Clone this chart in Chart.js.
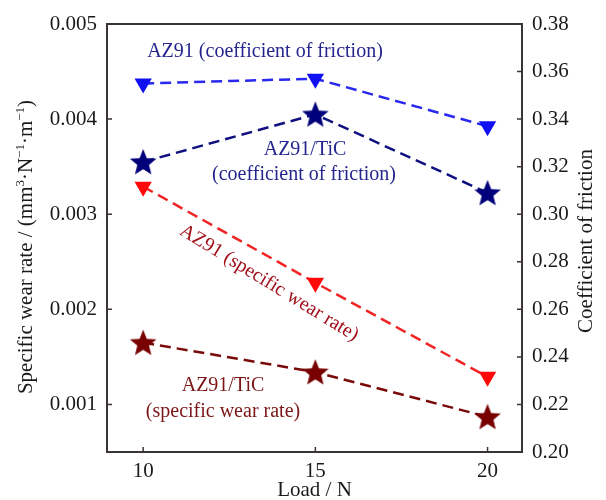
<!DOCTYPE html>
<html lang="en">
<head>
    <meta charset="UTF-8">
    <title>Wear rate and friction vs load</title>
    <script src="https://cdn.jsdelivr.net/npm/chart.js"></script>
    <style>
        body {
            margin: 0;
            background-color: white;
        }
        .chart-container {
            width: 606px;
            height: 500px;
        }
    </style>
</head>
<body>
    <div class="chart-container">
        <canvas id="wearChart" width="606" height="500"></canvas>
    </div>

    <script>
        // Data
        const loads = [10, 15, 20];
        const az91Cof = [0.355, 0.357, 0.337];
        const ticCof = [0.322, 0.342, 0.309];
        const az91Wear = [0.00329, 0.00228, 0.00129];
        const ticWear = [0.00165, 0.00134, 0.00087];

        const xTicks = [10, 15, 20];
        const wearTicks = [0.001, 0.002, 0.003, 0.004, 0.005];
        const cofTicks = [0.20, 0.22, 0.24, 0.26, 0.28, 0.30, 0.32, 0.34, 0.36, 0.38];

        const serif = '"Liberation Serif", "Times New Roman", serif';
        const axisColor = '#3a3434';

        // filled five-pointed star used as a point marker
        function makeStar(color, R) {
            const size = Math.ceil(R * 2 + 2);
            const c = document.createElement('canvas');
            c.width = size;
            c.height = size;
            const ctx = c.getContext('2d');
            const cx = size / 2, cy = size / 2 + R * 0.08;
            const r = R * 0.44;
            ctx.beginPath();
            for (let i = 0; i < 10; i++) {
                const rad = i % 2 === 0 ? R : r;
                const a = -Math.PI / 2 + i * Math.PI / 5;
                const px = cx + rad * Math.cos(a);
                const py = cy + rad * Math.sin(a);
                if (i === 0) ctx.moveTo(px, py); else ctx.lineTo(px, py);
            }
            ctx.closePath();
            ctx.fillStyle = color;
            ctx.fill();
            return c;
        }

        function pts(values) {
            return loads.map((x, i) => ({ x: x, y: values[i] }));
        }

        function fixTicks(list) {
            return function (scale) {
                scale.ticks = list.map(v => ({ value: v }));
            };
        }

        // frame, inward tick marks, axis titles and text labels
        const decorations = {
            id: 'decorations',
            afterDraw(chart) {
                const ctx = chart.ctx;
                const a = chart.chartArea;
                const s = chart.scales;
                ctx.save();

                ctx.strokeStyle = axisColor;
                ctx.lineWidth = 2;
                ctx.strokeRect(a.left, a.top, a.right - a.left, a.bottom - a.top);

                ctx.lineWidth = 1.5;
                ctx.beginPath();
                s.y.ticks.forEach(t => {
                    const py = s.y.getPixelForValue(t.value);
                    ctx.moveTo(a.left, py); ctx.lineTo(a.left + 5, py);
                });
                s.y1.ticks.forEach(t => {
                    const py = s.y1.getPixelForValue(t.value);
                    ctx.moveTo(a.right, py); ctx.lineTo(a.right - 5, py);
                });
                s.x.ticks.forEach(t => {
                    const px = s.x.getPixelForValue(t.value);
                    ctx.moveTo(px, a.bottom); ctx.lineTo(px, a.bottom - 5);
                });
                ctx.stroke();

                // x title
                ctx.fillStyle = '#1a1a1a';
                ctx.font = '21px ' + serif;
                ctx.textAlign = 'center';
                ctx.textBaseline = 'middle';
                ctx.fillText('Load / N', (a.left + a.right) / 2, 490);

                // right title, reading upwards
                ctx.save();
                ctx.translate(586, 241);
                ctx.rotate(-Math.PI / 2);
                ctx.fillText('Coefficient of friction', 0, 0);
                ctx.restore();

                // left title with superscripts
                const parts = [
                    ['Specific wear rate / (mm', false],
                    ['3', true],
                    ['\u00b7N', false],
                    ['\u22121', true],
                    ['\u00b7m', false],
                    ['\u22121', true],
                    [')', false]
                ];
                const big = '21px ' + serif;
                const small = '13px ' + serif;
                let total = 0;
                parts.forEach(p => {
                    ctx.font = p[1] ? small : big;
                    total += ctx.measureText(p[0]).width;
                });
                ctx.save();
                ctx.translate(25, 247);
                ctx.rotate(-Math.PI / 2);
                ctx.textAlign = 'left';
                ctx.textBaseline = 'alphabetic';
                let cx = -total / 2;
                parts.forEach(p => {
                    ctx.font = p[1] ? small : big;
                    ctx.fillText(p[0], cx, p[1] ? -1 : 7);
                    cx += ctx.measureText(p[0]).width;
                });
                ctx.restore();

                // series labels
                ctx.font = '20px ' + serif;
                ctx.textAlign = 'center';
                ctx.textBaseline = 'middle';
                ctx.fillStyle = '#25258e';
                ctx.fillText('AZ91 (coefficient of friction)', 265, 52);
                ctx.fillText('AZ91/TiC', 305, 150);
                ctx.fillText('(coefficient of friction)', 304, 175);

                ctx.fillStyle = '#7c1616';
                ctx.fillText('AZ91/TiC', 223, 386);
                ctx.fillText('(specific wear rate)', 223, 412);

                ctx.save();
                ctx.fillStyle = '#a1101a';
                ctx.translate(269, 283);
                ctx.rotate(31.5 * Math.PI / 180);
                ctx.fillText('AZ91 (specific wear rate)', 0, 0);
                ctx.restore();

                ctx.restore();
            }
        };

        const lineBase = {
            borderWidth: 2.5,
            borderDash: [11, 6],
            fill: false,
            tension: 0
        };

        new Chart(document.getElementById('wearChart'), {
            type: 'line',
            data: {
                datasets: [
                    Object.assign({}, lineBase, {
                        label: 'AZ91 (specific wear rate)',
                        data: pts(az91Wear),
                        yAxisID: 'y',
                        borderColor: '#f02424',
                        backgroundColor: '#ff0808',
                        pointStyle: 'triangle',
                        rotation: 180,
                        pointRadius: 10,
                        pointBorderWidth: 0
                    }),
                    Object.assign({}, lineBase, {
                        label: 'AZ91/TiC (specific wear rate)',
                        data: pts(ticWear),
                        yAxisID: 'y',
                        borderColor: '#7a0a0a',
                        pointStyle: makeStar('#780000', 14),
                        pointRadius: 14
                    }),
                    Object.assign({}, lineBase, {
                        label: 'AZ91 (coefficient of friction)',
                        data: pts(az91Cof),
                        yAxisID: 'y1',
                        borderColor: '#2828ee',
                        backgroundColor: '#1010f2',
                        pointStyle: 'triangle',
                        rotation: 180,
                        pointRadius: 10,
                        pointBorderWidth: 0
                    }),
                    Object.assign({}, lineBase, {
                        label: 'AZ91/TiC (coefficient of friction)',
                        data: pts(ticCof),
                        yAxisID: 'y1',
                        borderColor: '#101080',
                        pointStyle: makeStar('#00007a', 14),
                        pointRadius: 14
                    })
                ]
            },
            options: {
                responsive: false,
                animation: false,
                layout: { padding: { top: 24 } },
                plugins: {
                    legend: { display: false },
                    tooltip: { enabled: false }
                },
                scales: {
                    x: {
                        type: 'linear',
                        min: 8.95,
                        max: 21,
                        afterBuildTicks: fixTicks(xTicks),
                        afterFit: s => { s.height = 48; },
                        grid: { display: false, drawTicks: false },
                        border: { display: false },
                        ticks: {
                            padding: 7,
                            color: '#1a1a1a',
                            font: { family: serif, size: 21 }
                        }
                    },
                    y: {
                        position: 'left',
                        min: 0.0005,
                        max: 0.005,
                        afterBuildTicks: fixTicks(wearTicks),
                        afterFit: s => { s.width = 107; },
                        grid: { display: false, drawTicks: false },
                        border: { display: false },
                        ticks: {
                            padding: 10,
                            color: '#1a1a1a',
                            font: { family: serif, size: 21 },
                            callback: v => v.toFixed(3)
                        }
                    },
                    y1: {
                        position: 'right',
                        min: 0.20,
                        max: 0.38,
                        afterBuildTicks: fixTicks(cofTicks),
                        afterFit: s => { s.width = 84; },
                        grid: { display: false, drawTicks: false },
                        border: { display: false },
                        ticks: {
                            padding: 10,
                            color: '#1a1a1a',
                            font: { family: serif, size: 21 },
                            callback: v => v.toFixed(2)
                        }
                    }
                }
            },
            plugins: [decorations]
        });
    </script>
</body>
</html>
